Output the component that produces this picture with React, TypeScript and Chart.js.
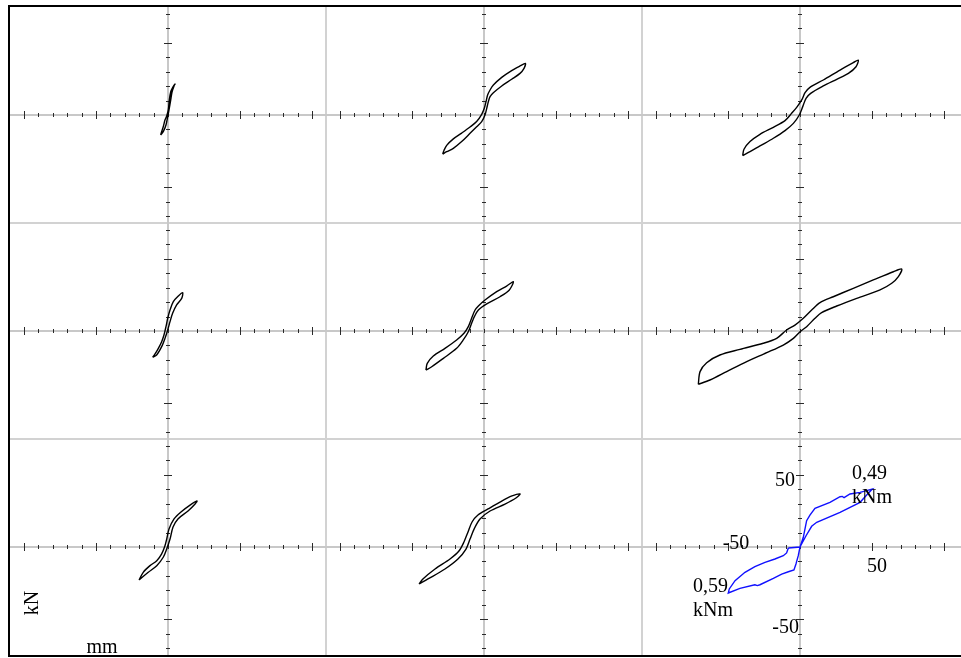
import React, { useEffect, useRef } from 'react';
import { Chart, registerables } from 'chart.js';

Chart.register(...registerables);

// ---- axes (mm horizontally, kN vertically) ----
const X_HALF_RANGE = 109.7;
const Y_HALF_RANGE = 74.7;
const xTickValues = [-100, -90, -80, -70, -60, -50, -40, -30, -20, -10, 0, 10, 20, 30, 40, 50, 60, 70, 80, 90, 100];
const xMajorTicks = [-100, -50, 50, 100];
const yTickValues = [-70, -60, -50, -40, -30, -20, -10, 10, 20, 30, 40, 50, 60, 70];
const yMajorTicks = [-50, 50];

// ---- hysteresis loops: [displacement mm, force kN] ----
const loopR1C1: [number, number][] = [
  [-5.1, -13.8], [-3.3, -11.5], [-1.4, -6.9], [-0.2, -1.2], [0.7, 3.5], [1.9, 10.4], [2.8, 15.9], [4.2, 20.1], [4.9, 21.4],
  [3.3, 19.2], [1.9, 16.1], [0.9, 10.4], [0.2, 3.5], [-0.9, -0.7], [-2.1, -3.5], [-3.3, -8.1], [-4.7, -12.4],
];
const loopR1C2: [number, number][] = [
  [-28.7, -27.0], [-25.9, -25.4], [-21.3, -23.1], [-15.5, -18.4], [-9.7, -12.7], [-5.1, -8.1], [-1.6, -4.6], [0.7, 0], [1.9, 4.6],
  [3.0, 9.2], [4.2, 12.7], [6.5, 15.4], [12.3, 20.1], [19.2, 24.7], [25.0, 28.8], [27.8, 32.3], [28.7, 35.7],
  [25.0, 33.9], [19.2, 30.7], [12.3, 26.0], [6.5, 20.7], [4.2, 17.3], [2.5, 13.8], [1.4, 9.2], [0.2, 4.6], [-1.6, 0.5],
  [-5.1, -4.5], [-9.7, -8.3], [-15.5, -12.5], [-21.3, -16.5], [-25.9, -21.0], [-27.8, -24.5],
];
const loopR1C3: [number, number][] = [
  [-39.8, -28.1], [-34.7, -25.4], [-27.8, -21.4], [-18.5, -16.1], [-10.4, -10.8], [-4.6, -5.8], [-0.5, 0], [1.9, 5.8], [4.2, 11.5],
  [7.4, 15.0], [16.2, 20.1], [25.5, 24.7], [33.6, 28.8], [38.9, 33.4], [40.5, 38.0],
  [37.0, 36.2], [27.8, 31.1], [16.2, 24.2], [6.9, 19.1], [3.5, 15.4], [1.2, 10.4], [-2.3, 5.3], [-5.8, 1.2], [-10.4, -3.9],
  [-18.5, -8.5], [-27.8, -13.4], [-34.7, -18.4], [-38.9, -23.7],
];
const loopR2C1: [number, number][] = [
  [-10.6, -18.2], [-7.9, -16.6], [-4.4, -10.8], [-2.1, -5.1], [-0.2, 0.7], [1.4, 6.5], [3.2, 12.2], [6.0, 18.0], [9.5, 22.6], [10.2, 26.5],
  [7.2, 24.2], [3.7, 20.3], [1.4, 14.5], [-0.2, 8.8], [-1.4, 3.0], [-2.8, -2.8], [-4.4, -7.4], [-6.7, -12.0], [-9.0, -15.9],
];
const loopR2C2: [number, number][] = [
  [-40.3, -27.0], [-36.3, -24.7], [-28.2, -18.9], [-19.0, -12.0], [-14.4, -6.2], [-10.9, -0.5], [-8.6, 5.3], [-6.7, 9.9], [-3.9, 14.5],
  [1.9, 18.7], [11.1, 23.7], [17.6, 28.4], [20.4, 34.1],
  [15.7, 31.1], [8.8, 27.2], [0.7, 21.4], [-3.9, 17.3], [-6.2, 14.5], [-8.6, 8.8], [-10.9, 3.0], [-13.9, -1.6], [-19.0, -6.2],
  [-27.1, -12.0], [-35.2, -17.3], [-39.4, -22.4],
];
const loopR2C3: [number, number][] = [
  [-70.6, -36.9], [-62.5, -33.9], [-50.9, -28.1], [-37.0, -21.2], [-23.1, -15.0], [-11.6, -9.7], [-4.6, -5.1], [0, -0.5], [4.6, 3.0],
  [10.4, 8.8], [15.0, 12.7], [25.5, 17.3], [39.4, 22.6], [55.6, 28.4], [63.7, 33.0], [68.3, 37.6], [70.6, 42.9],
  [64.8, 41.0], [50.9, 35.3], [37.0, 29.5], [23.1, 23.7], [13.9, 19.6], [8.1, 14.5], [2.3, 8.8], [-3.5, 4.1], [-9.3, 0.7],
  [-16.2, -5.1], [-25.5, -8.5], [-41.7, -12.7], [-55.6, -16.6], [-64.8, -21.9], [-69.4, -28.1],
];
const loopR3C1: [number, number][] = [
  [-20.1, -22.8], [-13.7, -17.5], [-7.8, -12.9], [-3.3, -7.1], [-0.9, -1.4], [1.4, 5.5], [3.5, 13.8], [6.9, 19.4], [13.9, 24.9],
  [18.8, 29.7], [20.1, 31.8],
  [15.3, 29.0], [9.0, 24.2], [4.2, 19.4], [0.7, 12.4], [-0.9, 5.5], [-2.1, 0.9], [-4.4, -4.8], [-7.8, -9.5], [-12.5, -12.9], [-17.2, -17.5],
];
const loopR3C2: [number, number][] = [
  [-45.1, -25.6], [-38.9, -22.1], [-27.1, -15.2], [-18.1, -8.3], [-12.5, -1.4], [-9.7, 5.5], [-6.9, 12.4], [-2.8, 19.4], [4.2, 24.9],
  [14.6, 29.7], [22.2, 33.9], [25.0, 36.7],
  [19.4, 35.3], [11.1, 31.1], [2.8, 26.3], [-4.2, 22.1], [-8.3, 17.3], [-11.1, 10.4], [-13.9, 3.5], [-17.4, -2.8], [-23.6, -8.3],
  [-34.0, -15.2], [-42.4, -22.1],
];
const loopR3C3: [number, number][] = [
  [-8.1, -0.7], [0, 0], [2.3, 6.7], [4.6, 18.2], [6.9, 22.1], [10.4, 26.7], [20.8, 30.9], [27.8, 34.8], [29.4, 35.0], [30.6, 34.1],
  [34.7, 36.7], [41.7, 37.8], [50.2, 40.1], [46.3, 36.0], [41.7, 30.9], [27.8, 24.0], [11.6, 17.1], [8.1, 14.3], [4.2, 7.8], [0, 0],
  [-1.2, -6.0], [-2.8, -11.8], [-4.2, -15.9], [-8.1, -17.1], [-12.7, -18.7], [-18.5, -21.7], [-27.8, -26.1], [-29.6, -26.7],
  [-31.3, -26.1], [-41.7, -28.6], [-49.8, -31.8], [-49.1, -29.0], [-45.1, -23.3], [-38.2, -17.5], [-31.3, -13.6], [-24.3, -10.6],
  [-17.4, -8.3], [-11.6, -6.0], [-9.3, -4.1],
];

// ---- texts ----
const panel9YTickLabels = ['50', '-50'];
const panel9YTickValues = [50, -50];
const panel9XTickLabels = ['-50', '50'];
const panel9XTickValues = [-50, 50];
const momentLabels = [['0,49', 'kNm'], ['0,59', 'kNm']];
const yUnit = 'kN';
const xUnit = 'mm';

const CELL_W = 316;
const LAST_COL_W = 324;
const CELL_H = 216;
const FONT = '20px "Liberation Serif", "Times New Roman", serif';

type PanelDef = { loop: [number, number][]; color: string; tension: number; row: number; col: number };

const panels: PanelDef[] = [
  { loop: loopR1C1, color: '#000000', tension: 0.3, row: 0, col: 0 },
  { loop: loopR1C2, color: '#000000', tension: 0.3, row: 0, col: 1 },
  { loop: loopR1C3, color: '#000000', tension: 0.3, row: 0, col: 2 },
  { loop: loopR2C1, color: '#000000', tension: 0.3, row: 1, col: 0 },
  { loop: loopR2C2, color: '#000000', tension: 0.3, row: 1, col: 1 },
  { loop: loopR2C3, color: '#000000', tension: 0.3, row: 1, col: 2 },
  { loop: loopR3C1, color: '#000000', tension: 0.3, row: 2, col: 0 },
  { loop: loopR3C2, color: '#000000', tension: 0.3, row: 2, col: 1 },
  { loop: loopR3C3, color: '#1010ff', tension: 0, row: 2, col: 2 },
];

function makeFramePlugin(row: number, col: number) {
  return {
    id: 'cellFrame',
    beforeDatasetsDraw(chart: any) {
      const { ctx, chartArea: a, scales } = chart;
      const xs = scales.x;
      const ys = scales.y;
      const x0 = Math.round(xs.getPixelForValue(0));
      const y0 = Math.round(ys.getPixelForValue(0));
      ctx.save();
      ctx.fillStyle = '#d2d2d2';
      if (col > 0) ctx.fillRect(a.left, a.top, 1, a.bottom - a.top);
      if (col < 2) ctx.fillRect(a.right - 1, a.top, 1, a.bottom - a.top);
      if (row > 0) ctx.fillRect(a.left, a.top, a.right - a.left, 1);
      if (row < 2) ctx.fillRect(a.left, a.bottom - 1, a.right - a.left, 1);
      ctx.fillStyle = '#c8c8c8';
      ctx.fillRect(a.left, y0 - 1, a.right - a.left, 2);
      ctx.fillRect(x0 - 1, a.top, 2, a.bottom - a.top);
      ctx.strokeStyle = '#2a2a2a';
      ctx.lineWidth = 1;
      ctx.beginPath();
      for (const v of xTickValues) {
        const px = Math.round(xs.getPixelForValue(v)) + 0.5;
        const len = xMajorTicks.includes(v) ? 4 : 2;
        ctx.moveTo(px, y0 - len);
        ctx.lineTo(px, y0 + len);
      }
      for (const v of yTickValues) {
        const py = Math.round(ys.getPixelForValue(v)) + 0.5;
        const len = yMajorTicks.includes(v) ? 4 : 2;
        ctx.moveTo(x0 - len, py);
        ctx.lineTo(x0 + len, py);
      }
      ctx.stroke();
      ctx.restore();
    },
    afterDatasetsDraw(chart: any) {
      const { ctx, chartArea: a, scales } = chart;
      const xs = scales.x;
      const ys = scales.y;
      const x0 = xs.getPixelForValue(0);
      const y0 = ys.getPixelForValue(0);
      ctx.save();
      ctx.font = FONT;
      ctx.fillStyle = '#000000';
      if (row === 2 && col === 0) {
        ctx.save();
        ctx.translate(a.left + 23, a.top + 164);
        ctx.rotate(-Math.PI / 2);
        ctx.textAlign = 'center';
        ctx.textBaseline = 'middle';
        ctx.fillText(yUnit, 0, 0);
        ctx.restore();
        ctx.textAlign = 'center';
        ctx.textBaseline = 'alphabetic';
        ctx.fillText(xUnit, a.left + 92, a.top + 214);
      }
      if (row === 2 && col === 2) {
        ctx.textAlign = 'right';
        ctx.textBaseline = 'alphabetic';
        panel9YTickLabels.forEach((t, i) => {
          const py = ys.getPixelForValue(panel9YTickValues[i]);
          const dx = panel9YTickValues[i] > 0 ? -5 : -1;
          const dy = panel9YTickValues[i] > 0 ? 11 : 14;
          ctx.fillText(t, x0 + dx, py + dy);
        });
        ctx.textAlign = 'center';
        panel9XTickLabels.forEach((t, i) => {
          const px = xs.getPixelForValue(panel9XTickValues[i]);
          if (panel9XTickValues[i] < 0) ctx.fillText(t, px + 8, y0 + 2);
          else ctx.fillText(t, px + 5, y0 + 25);
        });
        ctx.textAlign = 'left';
        const tipPos = [
          { x: xs.getPixelForValue(36.1), y: ys.getPixelForValue(47.0) },
          { x: xs.getPixelForValue(-74.3), y: ys.getPixelForValue(-31.1) },
        ];
        momentLabels.forEach((lines, i) => {
          lines.forEach((ln, j) => ctx.fillText(ln, tipPos[i].x, tipPos[i].y + j * 24));
        });
      }
      ctx.restore();
    },
  };
}

function Panel({ def }: { def: PanelDef }) {
  const ref = useRef<HTMLCanvasElement>(null);
  const w = def.col === 2 ? LAST_COL_W : CELL_W;
  useEffect(() => {
    if (!ref.current) return;
    const pxPerMm = CELL_W / (2 * X_HALF_RANGE);
    const xMax = -X_HALF_RANGE + w / pxPerMm;
    const pts = [...def.loop, def.loop[0]].map(([x, y]) => ({ x, y }));
    const chart = new Chart(ref.current, {
      type: 'scatter',
      data: {
        datasets: [
          {
            data: pts,
            showLine: true,
            borderColor: def.color,
            backgroundColor: def.color,
            borderWidth: 1.4,
            pointRadius: 0,
            tension: def.tension,
            fill: false,
          } as any,
        ],
      },
      options: {
        responsive: false,
        animation: false,
        events: [],
        layout: { padding: 0 },
        scales: {
          x: { type: 'linear', display: false, min: -X_HALF_RANGE, max: xMax },
          y: { type: 'linear', display: false, min: -Y_HALF_RANGE, max: Y_HALF_RANGE },
        },
        plugins: { legend: { display: false }, tooltip: { enabled: false } },
      },
      plugins: [makeFramePlugin(def.row, def.col)],
    });
    return () => chart.destroy();
  }, [def, w]);
  return <canvas ref={ref} width={w} height={CELL_H} style={{ display: 'block', width: w, height: CELL_H }} />;
}

export default function App() {
  useEffect(() => {
    document.body.style.overflow = 'hidden';
  }, []);
  return (
    <div
      style={{
        position: 'absolute',
        left: 8,
        top: 5,
        width: 990,
        borderTop: '2px solid #000',
        borderLeft: '2px solid #000',
        borderBottom: '2px solid #000',
        display: 'grid',
        gridTemplateColumns: `${CELL_W}px ${CELL_W}px ${LAST_COL_W}px`,
        gridTemplateRows: `${CELL_H}px ${CELL_H}px ${CELL_H}px`,
        background: '#fff',
      }}
    >
      {panels.map((p, i) => (
        <Panel key={i} def={p} />
      ))}
    </div>
  );
}
